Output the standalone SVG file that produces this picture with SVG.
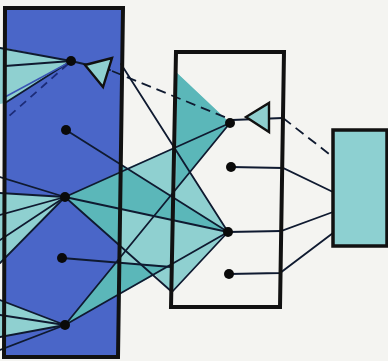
<svg xmlns="http://www.w3.org/2000/svg" width="388" height="361" viewBox="0 0 388 361">
<defs>
<style>
.ln{stroke:#0f1a30;stroke-width:1.8;fill:none;stroke-linecap:round}
.dash{stroke:#0f1a30;stroke-width:1.8;fill:none;stroke-dasharray:10 6}
.bdash{stroke:#1c2c78;stroke-width:1.8;fill:none;stroke-dasharray:8 6}
.lt{fill:#8fd0d0}
.mt{fill:#5bb7b9}
.border{fill:none;stroke:#111;stroke-width:4;stroke-linejoin:miter}
.dot{fill:#0a0a0a}
.arrow{fill:#8fd0d0;stroke:#111;stroke-width:2.4;stroke-linejoin:miter}
</style>
</defs>
<rect x="0" y="0" width="388" height="361" fill="#f4f4f1"/>

<g id="input-layer">
  <polygon points="5,8 123,8 118,357 4,357" fill="#4a66c8"/>
  <polygon class="lt" points="0,47 71,61 5,103 0,104"/>
  <polygon class="lt" points="0,193 65,197 0,263"/>
  <polygon class="lt" points="0,300 65,325 0,337"/>
  <polygon class="mt" points="65,197 121,171 121,209"/>
  <polygon class="mt" points="65,197 121,209 118,243"/>
  <polygon class="mt" points="65,325 118,260 118,295"/>
</g>

<g id="hidden-fans">
  <polygon class="lt" points="120,171 176,147 177,73 230,123 190,172 228,232 172,292 154,274 118,295"/>
  <polygon class="mt" points="177,73 230,123 176,189"/>
  <polygon class="mt" points="120,164 228,232 120,209"/>
  <polygon class="mt" points="118,262 171,266 118,295"/>
</g>

<g id="output-node">
  <rect x="333" y="130" width="54" height="116" fill="#8dd0d1"/>
</g>

<g id="connectors">
  <line class="ln" x1="0" y1="48" x2="71" y2="61"/>
  <line class="ln" x1="5" y1="66" x2="71" y2="61"/>
  <line class="ln" x1="5" y1="103" x2="71" y2="61"/>
  <line x1="5" y1="97" x2="68" y2="63" stroke="#3a55b5" stroke-width="1.5"/>
  <line class="bdash" x1="68" y1="64" x2="8" y2="117"/>
  <line class="ln" x1="71" y1="61" x2="110" y2="70"/>
  <line class="dash" x1="112" y1="71" x2="227" y2="118"/>
  <line class="ln" x1="121" y1="64" x2="228" y2="232"/>
  <line class="ln" x1="66" y1="130" x2="228" y2="232"/>
  <line class="ln" x1="0" y1="177" x2="65" y2="197"/>
  <line class="ln" x1="0" y1="193" x2="65" y2="197"/>
  <line class="ln" x1="0" y1="215" x2="65" y2="197"/>
  <line class="ln" x1="0" y1="240" x2="65" y2="197"/>
  <line class="ln" x1="0" y1="263" x2="65" y2="197"/>
  <line class="ln" x1="65" y1="197" x2="230" y2="123"/>
  <line class="ln" x1="65" y1="197" x2="228" y2="232"/>
  <line class="ln" x1="65" y1="197" x2="172" y2="292"/>
  <line class="ln" x1="228" y1="232" x2="172" y2="292"/>
  <line class="ln" x1="62" y1="258" x2="171" y2="267"/>
  <line class="ln" x1="0" y1="300" x2="65" y2="325"/>
  <line class="ln" x1="0" y1="315" x2="65" y2="325"/>
  <line class="ln" x1="0" y1="337" x2="65" y2="325"/>
  <line class="ln" x1="0" y1="350" x2="65" y2="325"/>
  <line class="ln" x1="65" y1="325" x2="230" y2="123"/>
  <line class="ln" x1="65" y1="325" x2="228" y2="232"/>
  <polyline class="ln" points="232,120 283,118"/>
  <line class="dash" x1="283" y1="118" x2="333" y2="157"/>
  <polyline class="ln" points="231,167 283,168 333,192"/>
  <polyline class="ln" points="228,232 281,231 333,212"/>
  <polyline class="ln" points="229,274 280,273 333,233"/>
</g>

<g id="input-frame">
  <polygon class="border" points="5,8 123,8 118,357 4,357"/>
</g>
<g id="hidden-frame">
  <polygon class="border" points="176,52 284,52 280,307 171,307"/>
</g>
<g id="output-frame">
  <rect x="333" y="130" width="54" height="116" fill="none" stroke="#111" stroke-width="3.5"/>
</g>

<g id="arrow-in">
  <polygon class="arrow" points="85,65 112,58 103,87"/>
</g>
<g id="arrow-hidden">
  <polygon class="arrow" points="246,117 269,103 269,132"/>
</g>

<g id="in1"><circle class="dot" cx="71" cy="61" r="5"/></g>
<g id="in2"><circle class="dot" cx="66" cy="130" r="5"/></g>
<g id="in3"><circle class="dot" cx="65" cy="197" r="5"/></g>
<g id="in4"><circle class="dot" cx="62" cy="258" r="5"/></g>
<g id="in5"><circle class="dot" cx="65" cy="325" r="5"/></g>
<g id="h1"><circle class="dot" cx="230" cy="123" r="5"/></g>
<g id="h2"><circle class="dot" cx="231" cy="167" r="5"/></g>
<g id="h3"><circle class="dot" cx="228" cy="232" r="5"/></g>
<g id="h4"><circle class="dot" cx="229" cy="274" r="5"/></g>
</svg>
